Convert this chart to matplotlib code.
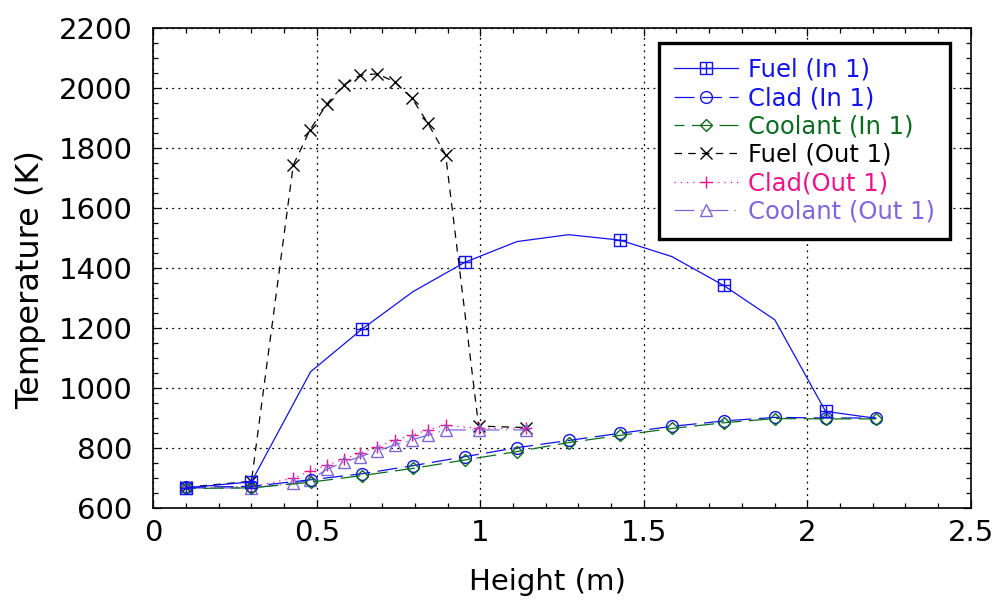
import matplotlib
matplotlib.use("Agg")
import matplotlib.pyplot as plt
from matplotlib.path import Path
from matplotlib.ticker import MultipleLocator, FixedLocator, FixedFormatter

plt.rcParams["font.family"] = ["DejaVu Sans"]

# Inner channel (In 1)
height_in = [0.10, 0.30, 0.481, 0.638, 0.794, 0.953, 1.112, 1.270, 1.427,
             1.586, 1.744, 1.901, 2.056, 2.210]
fuel_in = [668, 688, 1055, 1197, 1322, 1420, 1489, 1512, 1494,
           1439, 1343, 1228, 923, 900]
clad_in = [670, 673, 695, 715, 742, 772, 802, 826, 850,
           873, 891, 903, 901, 901]
coolant_in = [666, 668, 687, 709, 733, 761, 789, 819, 843,
              866, 885, 899, 898, 898]
fuel_in_marked = [0, 1, 3, 5, 8, 10, 12]

# Outer channel (Out 1)
height_out = [0.10, 0.30, 0.428, 0.479, 0.531, 0.582, 0.633, 0.684, 0.738,
              0.791, 0.840, 0.894, 0.995, 1.140]
fuel_out = [670, 690, 1744, 1861, 1948, 2011, 2044, 2048, 2022,
            1967, 1883, 1778, 874, 869]
clad_out = [670, 672, 700, 724, 744, 763, 785, 805, 827,
            844, 861, 877, 866, 867]
coolant_out = [667, 668, 683, 694, 730, 753, 772, 791, 811,
               828, 844, 861, 861, 861]

labels = ["Fuel (In 1)", "Clad (In 1)", "Coolant (In 1)",
          "Fuel (Out 1)", "Clad(Out 1)", "Coolant (Out 1)"]

x_ticks = [0, 0.5, 1, 1.5, 2, 2.5]
x_tick_labels = ["0", "0.5", "1", "1.5", "2", "2.5"]
y_ticks = [600, 800, 1000, 1200, 1400, 1600, 1800, 2000, 2200]
y_tick_labels = [str(v) for v in y_ticks]

c_blue = "#1111ee"
c_green = "#0b6b1e"
c_black = "#000000"
c_pink = "#ee1188"
c_purple = "#7f66dd"

# square with a cross inside
sq_plus = Path(
    [(-1, -1), (1, -1), (1, 1), (-1, 1), (-1, -1),
     (0, -1), (0, 1), (-1, 0), (1, 0)],
    [Path.MOVETO, Path.LINETO, Path.LINETO, Path.LINETO, Path.CLOSEPOLY,
     Path.MOVETO, Path.LINETO, Path.MOVETO, Path.LINETO],
)

fig = plt.figure(figsize=(9.95, 6.02), dpi=100)
ax = fig.add_axes([0.1541, 0.1557, 0.8215, 0.7973])

lw = 0.9
ax.plot(height_in, fuel_in, color=c_blue, lw=lw, ls="-",
        marker=sq_plus, ms=8.2, mfc="none", mec=c_blue, mew=1.0,
        markevery=fuel_in_marked, label=labels[0], zorder=5)
ax.plot(height_in, clad_in, color=c_blue, lw=lw, ls=(0, (16, 6)),
        marker="o", ms=8.5, mfc="none", mec=c_blue, mew=1.0,
        label=labels[1], zorder=4)
ax.plot(height_in, coolant_in, color=c_green, lw=lw, ls=(8, (16, 6)),
        marker="D", ms=5.8, mfc="none", mec=c_green, mew=1.0,
        label=labels[2], zorder=4)
ax.plot(height_out, fuel_out, color=c_black, lw=lw, ls=(0, (6, 5)),
        marker="x", ms=8.4, mec=c_black, mew=1.0,
        label=labels[3], zorder=3)
ax.plot(height_out, clad_out, color=c_pink, lw=lw, ls=(0, (1, 4)),
        marker="+", ms=9.0, mec=c_pink, mew=1.0,
        label=labels[4], zorder=3)
ax.plot(height_out, coolant_out, color=c_purple, lw=lw, ls=(0, (16, 5, 1, 5)),
        marker="^", ms=9.0, mfc="none", mec=c_purple, mew=1.0,
        label=labels[5], zorder=3)

ax.set_xlim(0, 2.5)
ax.set_ylim(600, 2200)
ax.xaxis.set_major_locator(FixedLocator(x_ticks))
ax.xaxis.set_major_formatter(FixedFormatter(x_tick_labels))
ax.yaxis.set_major_locator(FixedLocator(y_ticks))
ax.yaxis.set_major_formatter(FixedFormatter(y_tick_labels))
ax.xaxis.set_minor_locator(MultipleLocator(0.1))
ax.yaxis.set_minor_locator(MultipleLocator(50))

ax.tick_params(which="both", direction="in", top=True, right=True,
               width=0.9, colors="black")
ax.tick_params(which="major", length=6)
ax.tick_params(which="minor", length=3.5)
ax.tick_params(axis="x", which="major", labelsize=21, pad=8)
ax.tick_params(axis="y", which="major", labelsize=21, pad=15)

for s in ax.spines.values():
    s.set_linewidth(1.2)

ax.grid(True, which="major", color="black", ls=(0, (1.5, 3.5)), lw=0.9)
ax.set_axisbelow(True)

ax.set_xlabel("Height (m)", fontsize=21)
ax.set_ylabel("Temperature (K)", fontsize=23)
ax.xaxis.set_label_coords(0.4817, -0.125)
ax.yaxis.set_label_coords(-0.1309, 0.4756)

leg = ax.legend(loc="upper right", bbox_to_anchor=(0.9742, 0.9694),
                fontsize=17.5, numpoints=1, handlelength=2.66,
                handletextpad=0.39, labelspacing=0.18, borderpad=0.61,
                borderaxespad=0.0, fancybox=False, framealpha=1,
                edgecolor="black")
leg.get_frame().set_linewidth(2.4)
for txt, col in zip(leg.get_texts(),
                    [c_blue, c_blue, c_green, c_black, c_pink, c_purple]):
    txt.set_color(col)

fig.savefig("out.png", dpi=100)
